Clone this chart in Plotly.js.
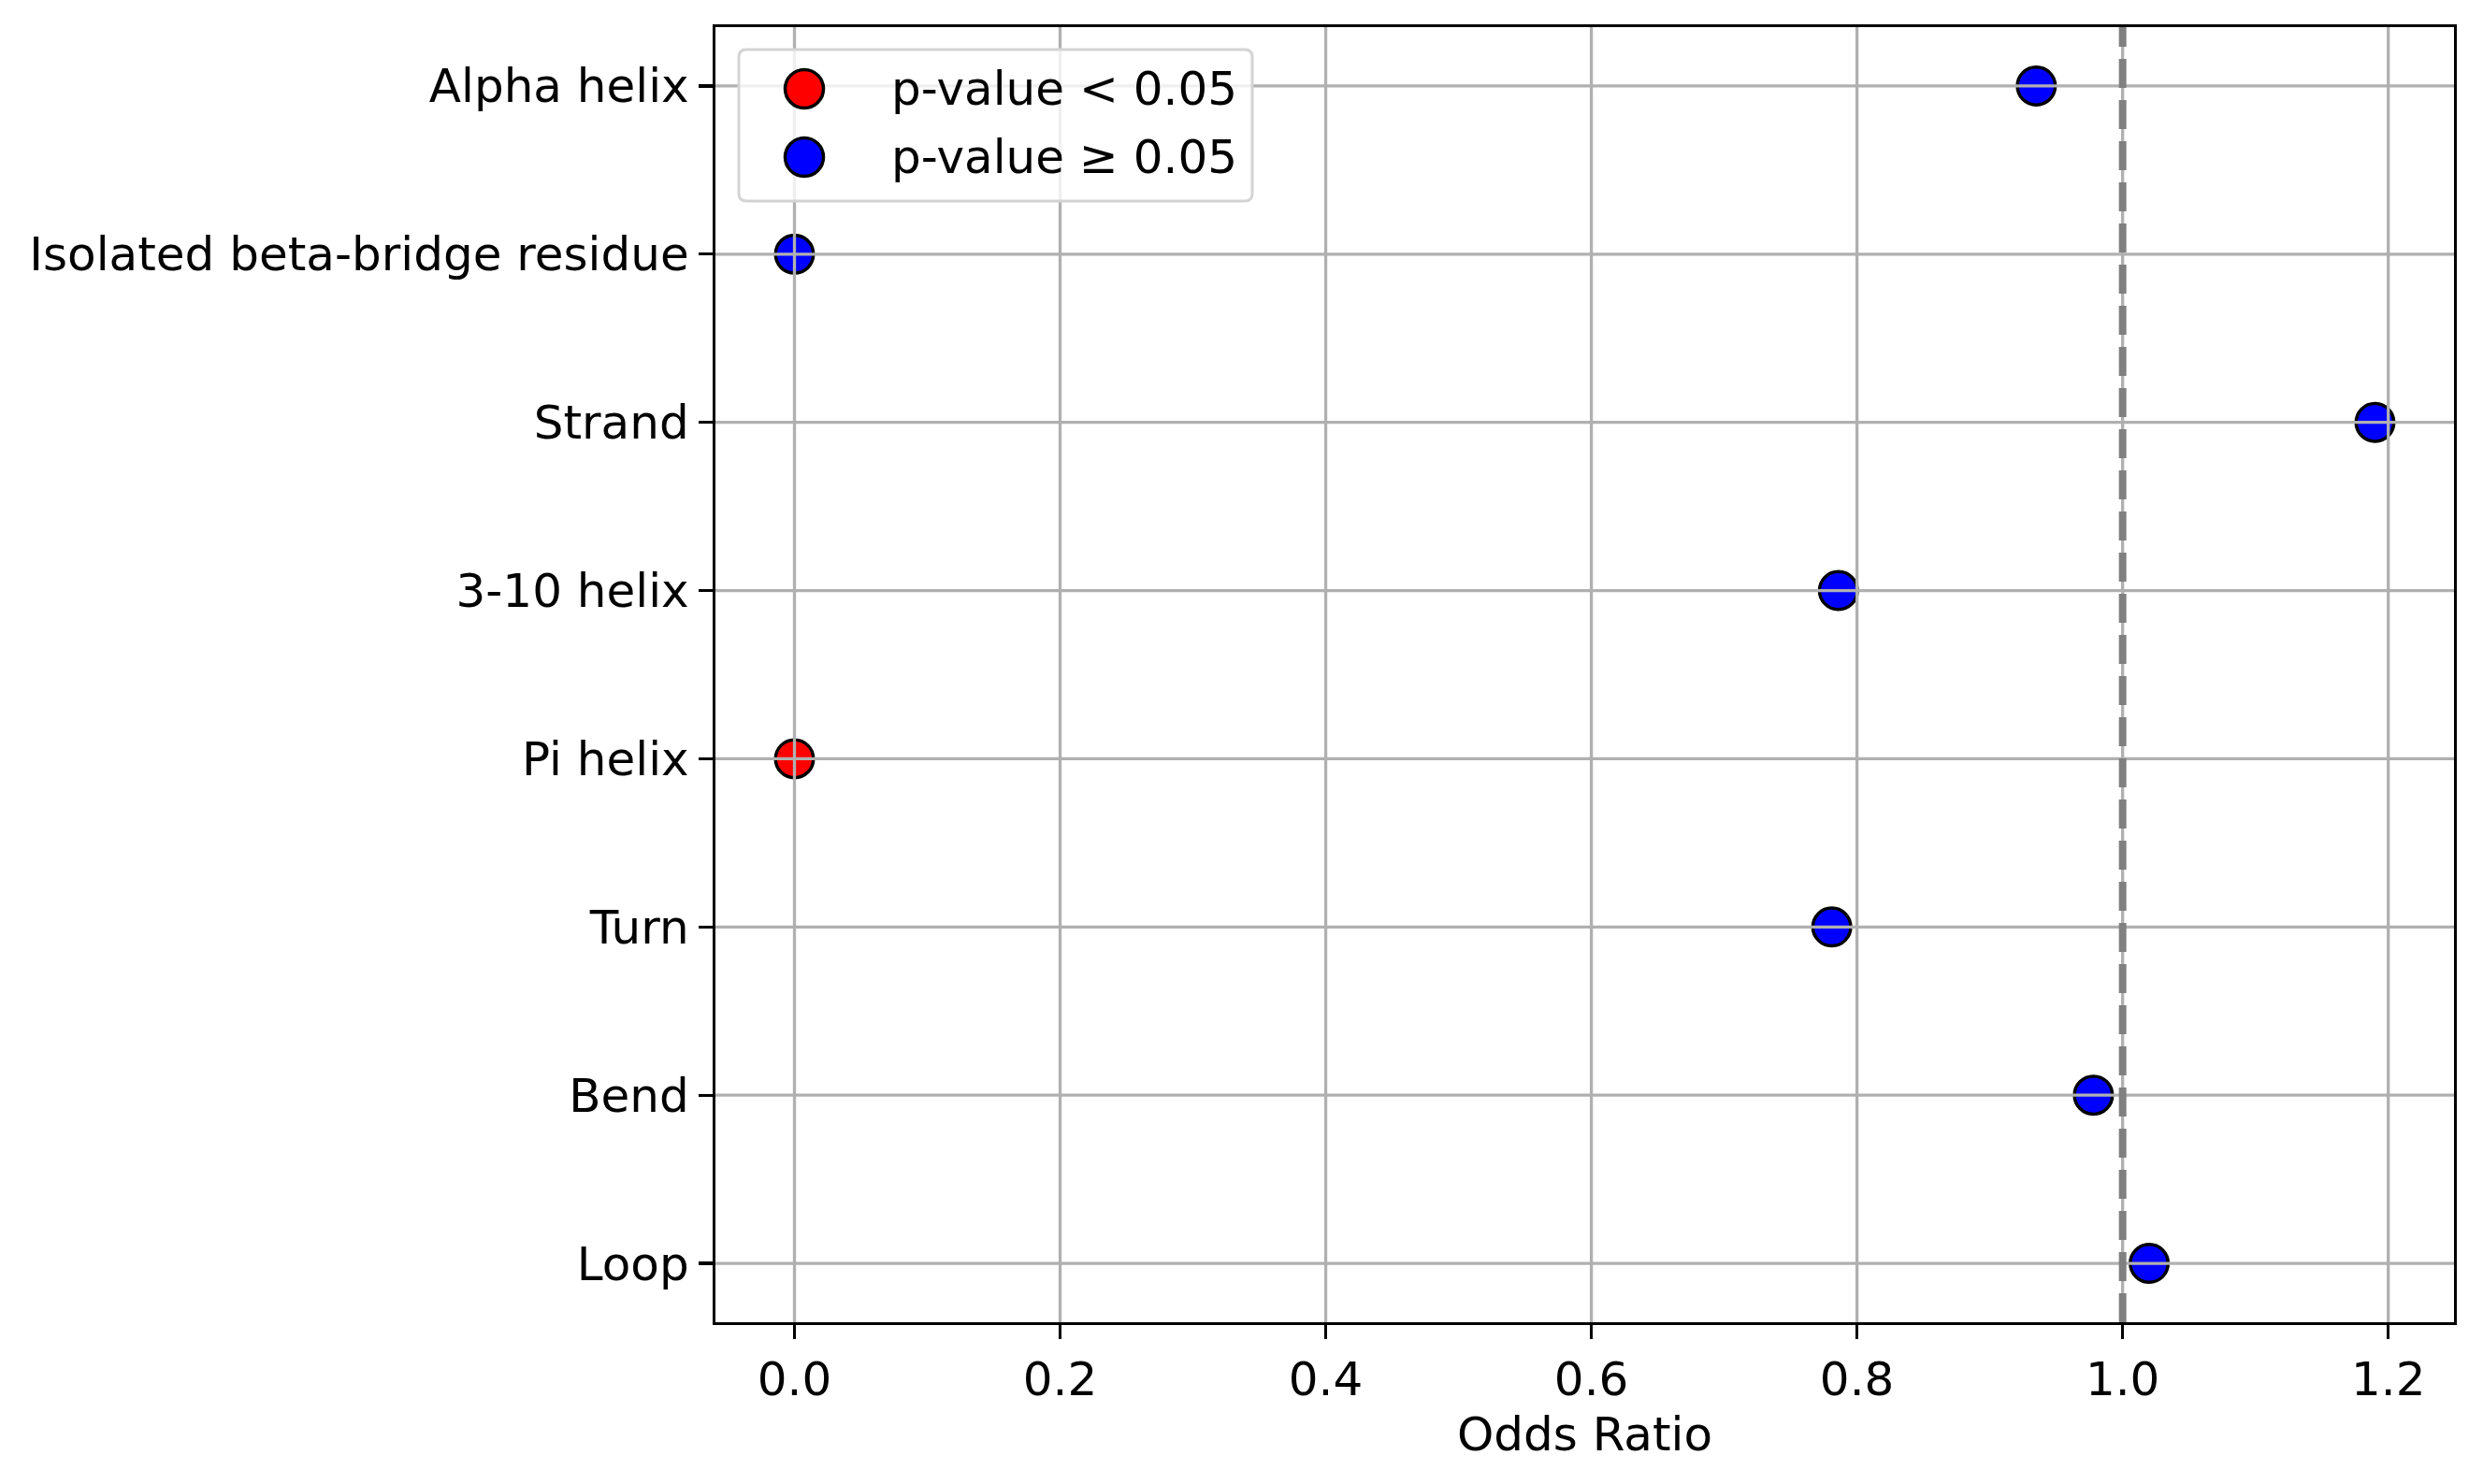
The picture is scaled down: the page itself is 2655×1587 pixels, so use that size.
<!DOCTYPE html>
<html>
<head>
<meta charset="utf-8">
<script src="https://cdn.plot.ly/plotly-3.0.1.min.js"></script>
<style>
  body { margin: 0; background: #fff; }
</style>
</head>
<body>
<div id="myDiv"></div>
<script>
// secondary structure categories, top to bottom
let categories = ["Alpha helix", "Isolated beta-bridge residue", "Strand", "3-10 helix",
                  "Pi helix", "Turn", "Bend", "Loop"];
let oddsRatios = [0.935, 0.0, 1.19, 0.786, 0.0, 0.781, 0.978, 1.02];
let significant = [false, false, false, false, true, false, false, false];
let xTicks = [0.0, 0.2, 0.4, 0.6, 0.8, 1.0, 1.2];
let xTickLabels = ["0.0", "0.2", "0.4", "0.6", "0.8", "1.0", "1.2"];
let legendLabels = ["p-value &lt; 0.05", "p-value ≥ 0.05"];
let legendColors = ["red", "blue"];

let fontFamily = "DejaVu Sans, sans-serif";
let fontSize = 50;
let gridColor = "#b0b0b0";

// plot area in pixels
let W = 2655, H = 1587;
let mL = 765, mR = 31, mT = 29, mB = 173;
let plotW = W - mL - mR;
let plotH = H - mT - mB;

function pick(flag) {
  let xs = [];
  let ys = [];
  for (let i = 0; i < categories.length; i++) {
    if (significant[i] === flag) {
      xs.push(oddsRatios[i]);
      ys.push(categories[i]);
    }
  }
  return {x: xs, y: ys};
}

let sig = pick(true);
let nonSig = pick(false);

// p < 0.05
let trace1 = {
  x: sig.x, y: sig.y,
  type: 'scatter',
  mode: 'markers',
  name: legendLabels[0],
  marker: {size: 40.5, color: legendColors[0], line: {color: 'black', width: 3.5}}
};

// p >= 0.05
let trace2 = {
  x: nonSig.x, y: nonSig.y,
  type: 'scatter',
  mode: 'markers',
  name: legendLabels[1],
  marker: {size: 40.5, color: legendColors[1], line: {color: 'black', width: 3.5}}
};

// grid drawn over the markers, like the original
let shapes = [];
categories.forEach(c => {
  shapes.push({type: 'line', xref: 'paper', yref: 'y', x0: 0, x1: 1, y0: c, y1: c,
    layer: 'above', line: {color: gridColor, width: 3.3}});
});
xTicks.forEach(t => {
  shapes.push({type: 'line', xref: 'x', yref: 'paper', x0: t, x1: t, y0: 0, y1: 1,
    layer: 'above', line: {color: gridColor, width: 3.3}});
});
// reference line at odds ratio 1
shapes.push({type: 'line', xref: 'x', yref: 'paper', x0: 1, x1: 1, y0: 0, y1: 1,
  layer: 'above', line: {color: 'gray', width: 8, dash: '31px,13px'}});

// legend box (matplotlib style, semi transparent, rounded)
function roundRect(x0, y0, x1, y1, r) {
  // pixel offsets, y up
  return `M ${x0 + r} ${y0} L ${x1 - r} ${y0} Q ${x1} ${y0} ${x1} ${y0 - r} ` +
         `L ${x1} ${y1 + r} Q ${x1} ${y1} ${x1 - r} ${y1} L ${x0 + r} ${y1} ` +
         `Q ${x0} ${y1} ${x0} ${y1 + r} L ${x0} ${y0 - r} Q ${x0} ${y0} ${x0 + r} ${y0} Z`;
}
shapes.push({type: 'path', xref: 'paper', yref: 'paper',
  xsizemode: 'pixel', ysizemode: 'pixel', xanchor: 0, yanchor: 1,
  path: roundRect(25, -24, 574, -186, 8),
  layer: 'above', fillcolor: 'rgba(255,255,255,0.8)',
  line: {color: '#d4d4d4', width: 3}});

let annotations = [];
let legendRowY = [95, 168];
legendLabels.forEach((lab, i) => {
  let yp = 1 - (legendRowY[i] - mT) / plotH;
  shapes.push({type: 'circle', xref: 'paper', yref: 'paper',
    xsizemode: 'pixel', ysizemode: 'pixel',
    xanchor: (860 - mL) / plotW, yanchor: yp,
    x0: -20.5, x1: 20.5, y0: -20.5, y1: 20.5,
    layer: 'above', fillcolor: legendColors[i],
    line: {color: 'black', width: 3.5}});
  annotations.push({xref: 'paper', yref: 'paper',
    x: (951 - mL) / plotW, y: yp, xanchor: 'left', yanchor: 'middle',
    text: lab, showarrow: false,
    font: {family: fontFamily, size: fontSize, color: 'black'}});
});

let n = categories.length;
let layout = {
  width: W,
  height: H,
  margin: {l: mL, r: mR, t: mT, b: mB},
  paper_bgcolor: 'white',
  plot_bgcolor: 'white',
  font: {family: fontFamily, size: fontSize, color: 'black'},
  showlegend: false,
  xaxis: {
    range: [-0.0595, 1.2495],
    tickvals: xTicks, ticktext: xTickLabels,
    showgrid: false, zeroline: false,
    showline: true, mirror: true, linecolor: 'black', linewidth: 3.3,
    ticks: 'outside', ticklen: 15, tickwidth: 3.3, tickcolor: 'black',
    title: {text: 'Odds Ratio', font: {size: fontSize}, standoff: 13}
  },
  yaxis: {
    type: 'category',
    categoryorder: 'array', categoryarray: categories,
    range: [n - 1 + 0.35, -0.35],
    showgrid: false, zeroline: false,
    showline: true, mirror: true, linecolor: 'black', linewidth: 3.3,
    ticks: 'outside', ticklen: 15, tickwidth: 3.3, tickcolor: 'black'
  },
  shapes: shapes,
  annotations: annotations
};

Plotly.newPlot('myDiv', [trace1, trace2], layout, {staticPlot: true});
</script>
</body>
</html>
